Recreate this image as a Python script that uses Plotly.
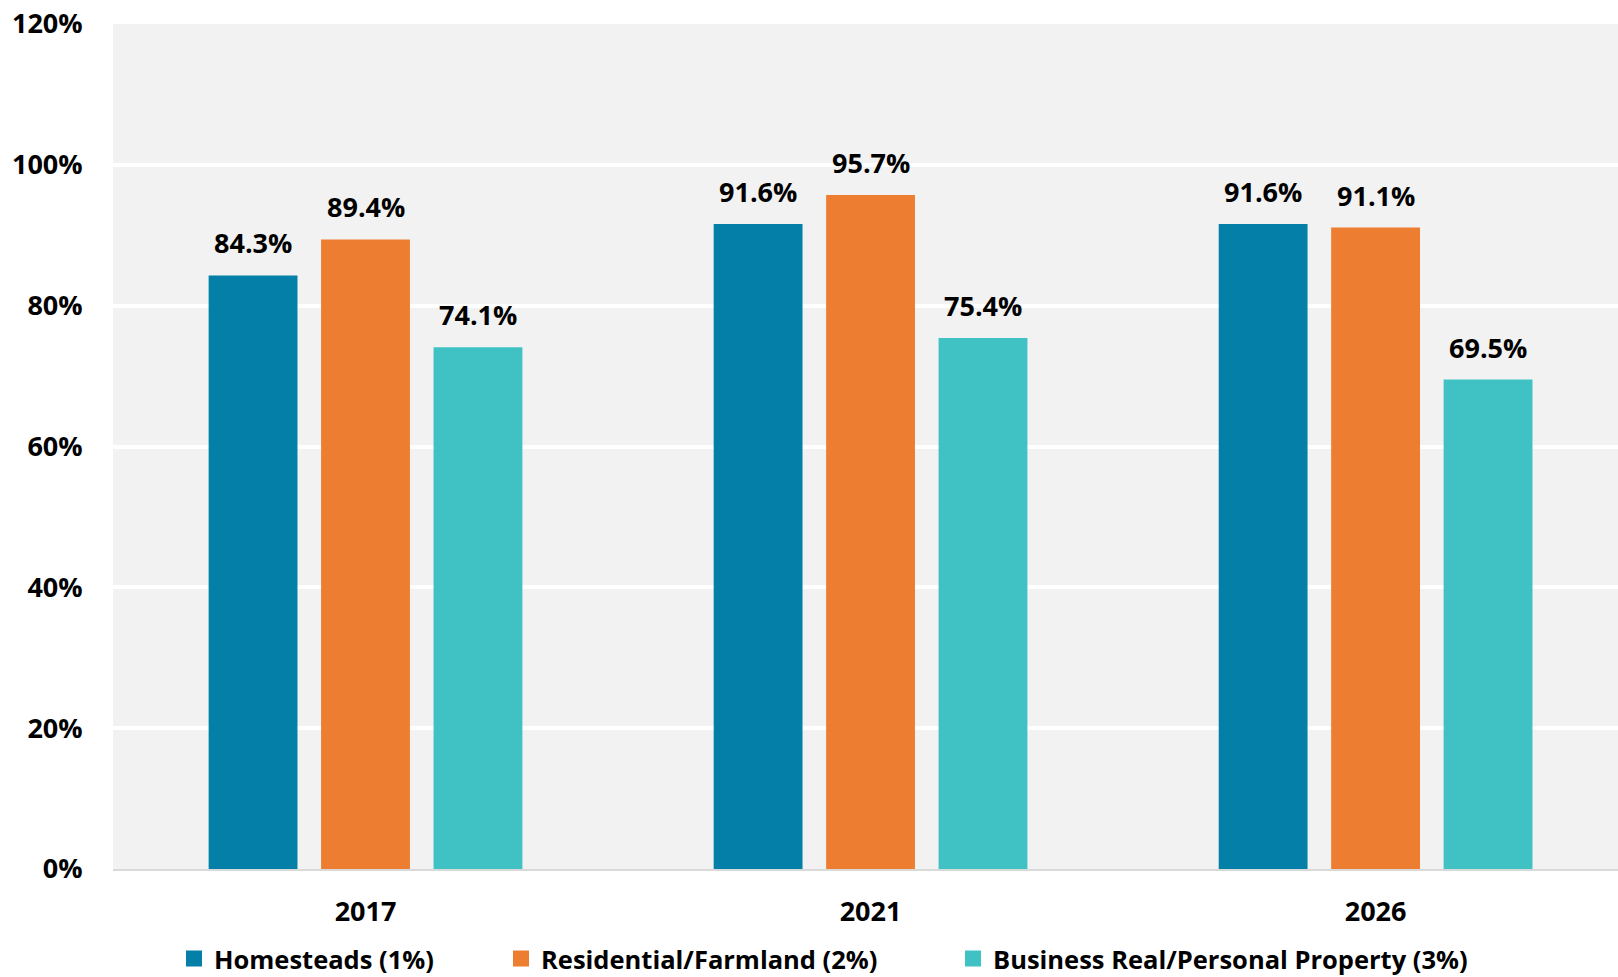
import plotly.graph_objects as go

# Data
years = ["2017", "2021", "2026"]
homesteads = [84.3, 91.6, 91.6]
residential = [89.4, 95.7, 91.1]
business = [74.1, 75.4, 69.5]
series_names = [
    "Homesteads (1%)",
    "Residential/Farmland (2%)",
    "Business Real/Personal Property (3%)",
]
series_colors = ["#037FA8", "#ED7D31", "#40C1C3"]
y_ticks = [0, 20, 40, 60, 80, 100, 120]
y_tick_labels = [f"{v}%" for v in y_ticks]

series_values = [homesteads, residential, business]

# Layout geometry (pixels)
FIG_W, FIG_H = 1618, 977
M_L, M_R, M_T, M_B = 113, 0, 24, 108
BARGAP, BARGROUPGAP = 0.332, 0.21
X_MAX = 2.48  # last category slightly cut at the right edge
plot_w = FIG_W - M_L - M_R
cat_px = plot_w / (X_MAX + 0.5)
slot_px = cat_px * (1 - BARGAP) / len(series_values)

FONT = "Open Sans"

fig = go.Figure()

for i, (name, vals, color) in enumerate(zip(series_names, series_values, series_colors)):
    fig.add_trace(go.Bar(
        x=years, y=vals, name=name,
        marker=dict(color=color, line=dict(width=0)),
        legendgroup=name, showlegend=False,
    ))
    # legend entry with a larger square swatch (no visible point)
    fig.add_trace(go.Scatter(
        x=[years[0]], y=[None], mode="markers", name=name,
        marker=dict(symbol="square", size=17, color=color),
        legendgroup=name, showlegend=True, hoverinfo="skip",
        legend="legend" if i == 0 else f"legend{i + 1}",
    ))
    # value labels above each bar (category index on the x axis)
    for j, v in enumerate(vals):
        fig.add_annotation(
            x=j, y=v, text=f"{v:.1f}%", showarrow=False,
            xref="x", yref="y", yanchor="bottom",
            xshift=(i - 1) * slot_px, yshift=12,
            font=dict(family=FONT, size=27, color="black", weight="bold"),
        )

legend_left_px = [174, 501, 953]
legend_common = dict(
    orientation="h", xref="container", yref="container",
    xanchor="left", yanchor="middle", y=1 - 959 / FIG_H,
    bgcolor="rgba(0,0,0,0)", borderwidth=0,
    font=dict(family=FONT, size=25.5, color="black", weight="bold"),
    itemclick=False, itemdoubleclick=False,
)

fig.update_layout(
    width=FIG_W, height=FIG_H,
    margin=dict(l=M_L, r=M_R, t=M_T, b=M_B, pad=0),
    paper_bgcolor="white", plot_bgcolor="#F2F2F2",
    barmode="group", bargap=BARGAP, bargroupgap=BARGROUPGAP,
    font=dict(family=FONT, color="black", weight="bold"),
    legend=dict(x=legend_left_px[0] / FIG_W, **legend_common),
    legend2=dict(x=legend_left_px[1] / FIG_W, **legend_common),
    legend3=dict(x=legend_left_px[2] / FIG_W, **legend_common),
    xaxis=dict(
        type="category", categoryorder="array", categoryarray=years,
        range=[-0.5, X_MAX],
        showgrid=False, zeroline=False,
        showline=True, linecolor="#D9D9D9", linewidth=2,
        ticks="outside", ticklen=18, tickcolor="rgba(0,0,0,0)",
        tickfont=dict(family=FONT, size=27, color="black", weight="bold"),
    ),
    yaxis=dict(
        range=[0, 120], tickvals=y_ticks, ticktext=y_tick_labels,
        showgrid=True, gridcolor="white", gridwidth=4,
        zeroline=False, showline=False,
        ticks="outside", ticklen=24, tickcolor="rgba(0,0,0,0)",
        tickfont=dict(family=FONT, size=27, color="black", weight="bold"),
    ),
)

fig.write_html("out.html")
